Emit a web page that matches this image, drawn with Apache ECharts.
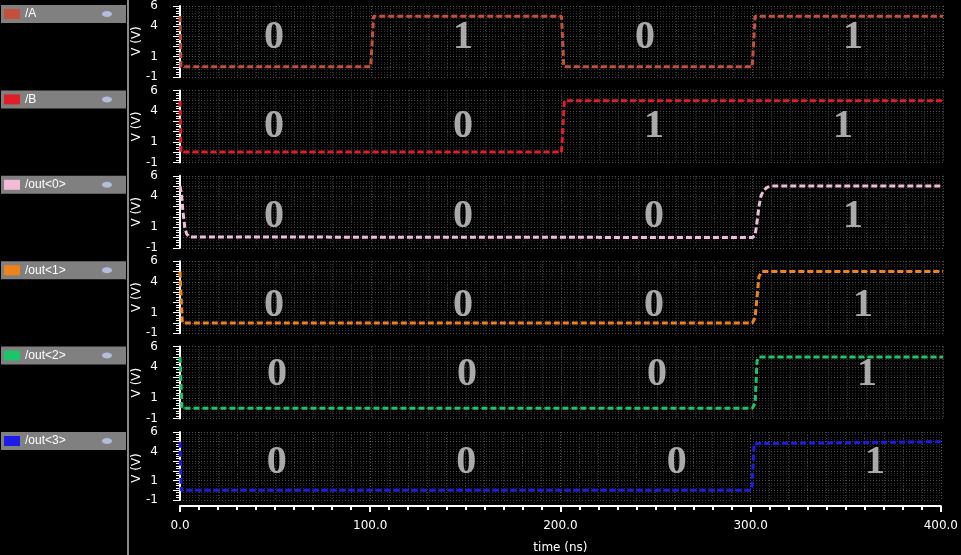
<!DOCTYPE html>
<html><head><meta charset="utf-8">
<script src="https://cdn.jsdelivr.net/npm/echarts@6/dist/echarts.min.js"></script>
<style>html,body{margin:0;padding:0;background:#000}#c{width:961px;height:555px}</style>
</head><body><div id="c"></div>
<script>
// ---- data ----
const seriesNames = ['/A', '/B', '/out<0>', '/out<1>', '/out<2>', '/out<3>'];
const seriesColors = ['#c4503a', '#e01e28', '#f2bcd8', '#f0821c', '#1ec468', '#1c1ce6'];
const yAxisTitle = 'V (V)';
const xAxisTitle = 'time (ns)';

const sigA    = [[0,5],[0.5,0],[100,0],[101.5,5],[200,5],[201.2,0],[300,0],[301.5,5],[400,5]];
const sigB    = [[0,5],[0.5,0],[200,0],[201.5,5],[400,5]];
const sigOut0 = [[0,5],[0.8,4.2],[1.5,2.6],[2.5,1.0],[3.5,0.35],[5,0.05],[6,0],[300,0],[301.5,0.2],[302.5,1.5],[303.5,3.0],[304.5,4.0],[306,4.6],[308,4.9],[310,5],[400,5]];
const sigOut1 = [[0,5],[1.2,0],[300,0],[301.5,0.5],[303.5,4.5],[305,5],[400,5]];
const sigOut2 = [[0,5],[1,0],[300,0],[301.5,0.5],[302.5,4.6],[303.5,5],[400,5]];
const sigOut3 = [[0,5],[0.6,0],[300,0],[300.8,0.5],[301.8,4.8],[302.5,5],[400,5]];
const signals = [sigA, sigB, sigOut0, sigOut1, sigOut2, sigOut3];

// logic-level annotations: times (ns), voltages, texts
const digitTimes = [
  [49.3, 148.4, 243.8, 352.8],
  [49.3, 148.4, 248.5, 347.6],
  [49.3, 148.4, 248.5, 352.8],
  [49.3, 148.4, 248.5, 358.1],
  [50.9, 150.5, 250.1, 360.2],
  [50.9, 150.5, 261.1, 365.4]
];
const digitVolts = [2.9, 2.5, 2.0, 1.7, 3.3, 2.8];
const digitTexts = [
  ['0','1','0','1'],
  ['0','0','1','1'],
  ['0','0','0','1'],
  ['0','0','0','1'],
  ['0','0','0','1'],
  ['0','0','0','1']
];

const yTickLabels = [6, 4, 1, -1];
const xMin = 0, xMax = 400, xInterval = 100;
const yMin = -1, yMax = 6;

// ---- layout ----
const gLeft = 180, gWidth = 763, gTop0 = 5, gStep = 85.4, gHeight = 72;
const n = seriesNames.length;
const grids = [], xAxes = [], yAxes = [], series = [], graphics = [];

graphics.push({type:'rect', shape:{x:127, y:0, width:2, height:555}, style:{fill:'#8a8a8a'}});

for (let i = 0; i < n; i++) {
  const top = gTop0 + i * gStep;
  const last = i === n - 1;
  grids.push({left: gLeft, width: gWidth, top: top, height: gHeight});
  xAxes.push({
    type: 'value', gridIndex: i, min: xMin, max: xMax, interval: xInterval,
    offset: last ? 6 : 0,
    name: last ? xAxisTitle : '', nameLocation: 'middle', nameGap: 36,
    nameTextStyle: {color: '#fff', fontFamily: 'DejaVu Sans', fontSize: 12},
    axisLine: {show: last, onZero: false, lineStyle: {color: '#fff', width: 2}},
    axisTick: {show: last, length: 6, lineStyle: {color: '#fff', width: 2}},
    minorTick: {show: last, splitNumber: 10, length: 4, lineStyle: {color: '#fff', width: 2}},
    axisLabel: {show: last, margin: 14, color: '#fff', fontFamily: 'DejaVu Sans', fontSize: 12,
      formatter: v => v.toFixed(1)},
    splitLine: {show: true, lineStyle: {color: '#5a5a5a', width: 1, type: [1, 2]}},
    minorSplitLine: {show: true, lineStyle: {color: '#404040', width: 1, type: [1, 2]}}
  });
  yAxes.push({
    type: 'value', gridIndex: i, min: yMin, max: yMax, interval: 1, offset: 8,
    axisLine: {show: true, lineStyle: {color: '#fff', width: 2}},
    axisTick: {show: true, length: 7, lineStyle: {color: '#fff', width: 1}},
    minorTick: {show: true, splitNumber: 4, length: 4, lineStyle: {color: '#fff', width: 1}},
    axisLabel: {margin: 14, color: '#fff', fontFamily: 'DejaVu Sans', fontSize: 12,
      formatter: v => yTickLabels.includes(v) ? String(v) : ''},
    splitLine: {show: true, lineStyle: {color: '#505050', width: 1, type: [1, 2]}},
    minorSplitLine: {show: true, lineStyle: {color: '#2c2c2c', width: 1, type: [1, 2]}}
  });
  series.push({
    type: 'line', name: seriesNames[i], xAxisIndex: i, yAxisIndex: i,
    data: signals[i], showSymbol: false, symbol: 'none', animation: false,
    lineStyle: {color: seriesColors[i], width: 3, type: [6, 3]}
  });
  series.push({
    type: 'scatter', xAxisIndex: i, yAxisIndex: i,
    data: digitTimes[i].map((t, k) => ({value: [t, digitVolts[i]], name: digitTexts[i][k]})),
    symbol: 'circle', symbolSize: 2, itemStyle: {color: 'rgba(0,0,0,0)'},
    animation: false, silent: true, z: 5,
    label: {show: true, position: 'inside', formatter: '{b}',
      fontFamily: 'Liberation Serif', fontWeight: 'bold', fontSize: 40, color: '#d2d2d2',
      textShadowColor: '#3c64e0', textShadowOffsetX: -1.5, textShadowBlur: 0}
  });
  // y-axis title (rotated, reads bottom to top)
  graphics.push({type:'text', x:137, y:top + gHeight/2, rotation: Math.PI/2,
    style:{text: yAxisTitle, fill:'#fff', font:'12px "DejaVu Sans"', align:'center', verticalAlign:'middle'}});
  // legend entry in the left panel
  graphics.push({type:'rect', shape:{x:1, y:top, width:125, height:18}, style:{fill:'#808080'}});
  graphics.push({type:'rect', shape:{x:4, y:top+4, width:16, height:10}, style:{fill:seriesColors[i]}});
  graphics.push({type:'text', x:25, y:top+9, style:{text:seriesNames[i], fill:'#fff',
    font:'12px "Liberation Sans"', verticalAlign:'middle', align:'left'}});
  graphics.push({type:'ellipse', shape:{cx:107, cy:top+9, rx:5, ry:3}, style:{fill:'#b4bedc'}});
}

const chart = echarts.init(document.getElementById('c'), null, {renderer: 'canvas'});
chart.setOption({
  backgroundColor: '#000', animation: false,
  grid: grids, xAxis: xAxes, yAxis: yAxes, series: series, graphic: graphics
});
</script></body></html>
